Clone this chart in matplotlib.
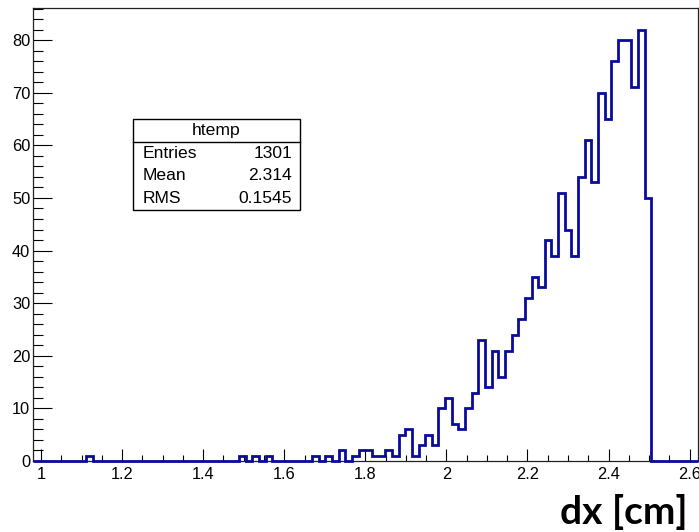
import numpy as np
import matplotlib
matplotlib.use("Agg")
import matplotlib.pyplot as plt
from matplotlib.ticker import MultipleLocator
from matplotlib.patches import Rectangle
from matplotlib.lines import Line2D

# ---- data (ROOT htemp, 100 bins) ----
x_min = 0.98
x_max = 2.62
n_bins = 100
counts = [0] * n_bins
filled_bins = [8, 31, 33, 35, 42, 44, 46, 48, 49, 50, 51, 52, 53, 54, 55, 56, 57, 58, 59, 60,
               61, 62, 63, 64, 65, 66, 67, 68, 69, 70, 71, 72, 73, 74, 75, 76, 77, 78, 79, 80,
               81, 82, 83, 84, 85, 86, 87, 88, 89, 90, 91, 92]
filled_counts = [1, 1, 1, 1, 1, 1, 2, 1, 2, 2, 1, 1, 2, 1, 5, 6, 1, 3, 5, 3,
                 10, 12, 7, 6, 10, 13, 23, 14, 21, 16, 21, 24, 27, 31, 35, 33, 42, 39, 51, 44,
                 39, 54, 61, 53, 70, 65, 76, 80, 80, 71, 82, 50]
for b, c in zip(filled_bins, filled_counts):
    counts[b] = c

stats_title = "htemp"
stats_labels = ["Entries", "Mean", "RMS"]
stats_values = ["1301", "2.314", "0.1545"]
x_label = "dx [cm]"

# ---- figure ----
W, H = 699, 532
fig = plt.figure(figsize=(W / 100, H / 100), dpi=100)
fig.patch.set_facecolor("white")

def fx(px):
    return px / W

def fy(py):
    return 1 - py / H

ax = fig.add_axes([fx(33), fy(461), fx(697.7) - fx(33), fy(8) - fy(461)])
edges = np.linspace(x_min, x_max, n_bins + 1)
ax.stairs(counts, edges, color="#0a0a9c", linewidth=2.0, clip_on=False, zorder=5)
ax.set_xlim(x_min, x_max)
ax.set_ylim(0, max(counts) * 1.05)

ax.xaxis.set_major_locator(MultipleLocator(0.2))
ax.xaxis.set_minor_locator(MultipleLocator(0.05))
ax.yaxis.set_major_locator(MultipleLocator(10))
ax.yaxis.set_minor_locator(MultipleLocator(2))

lab_font = "Liberation Sans"
ax.tick_params(axis="x", which="major", direction="in", length=8.8, width=0.8,
               pad=4, labelsize=11.8, top=False)
ax.tick_params(axis="x", which="minor", direction="in", length=4.6, width=0.8, top=False)
ax.tick_params(axis="y", which="major", direction="in", length=14.0, width=0.8,
               pad=2, labelsize=11.8, right=False)
ax.tick_params(axis="y", which="minor", direction="in", length=7.0, width=0.8, right=False)
for lbl in ax.get_xticklabels() + ax.get_yticklabels():
    lbl.set_fontfamily(lab_font)

def fmt_x(v, pos):
    s = f"{v:.1f}"
    if s.endswith(".0"):
        s = s[:-2]
    return s

ax.xaxis.set_major_formatter(matplotlib.ticker.FuncFormatter(fmt_x))
for sp in ax.spines.values():
    sp.set_linewidth(0.9)
    sp.set_color("#222222")

# ---- stats box ----
bx0, bx1, by0, by1 = 133, 300, 119, 210
fig.patches.append(Rectangle((fx(bx0), fy(by1)), fx(bx1) - fx(bx0), fy(by0) - fy(by1),
                             transform=fig.transFigure, facecolor="white",
                             edgecolor="black", linewidth=1.0, zorder=10))
fig.lines.append(Line2D([fx(bx0), fx(bx1)], [fy(141.7), fy(141.7)],
                        transform=fig.transFigure, color="black", linewidth=1.0, zorder=11))
st_size = 12.6
fig.text(fx((bx0 + bx1) / 2), fy(130.5), stats_title, ha="center", va="center",
         fontsize=st_size, family=lab_font, zorder=12)
rows_y = [153.3, 176.0, 198.5]
for lab, val, yy in zip(stats_labels, stats_values, rows_y):
    fig.text(fx(142.5), fy(yy), lab, ha="left", va="center", fontsize=st_size,
             family=lab_font, zorder=12)
    fig.text(fx(292), fy(yy), val, ha="right", va="center", fontsize=st_size,
             family=lab_font, zorder=12)

# ---- x label ----
fig.text(fx(688), fy(523.5), x_label, ha="right", va="baseline", fontsize=28,
         fontweight="bold", family="Lato")

fig.savefig("out.png", dpi=100, facecolor="white")
